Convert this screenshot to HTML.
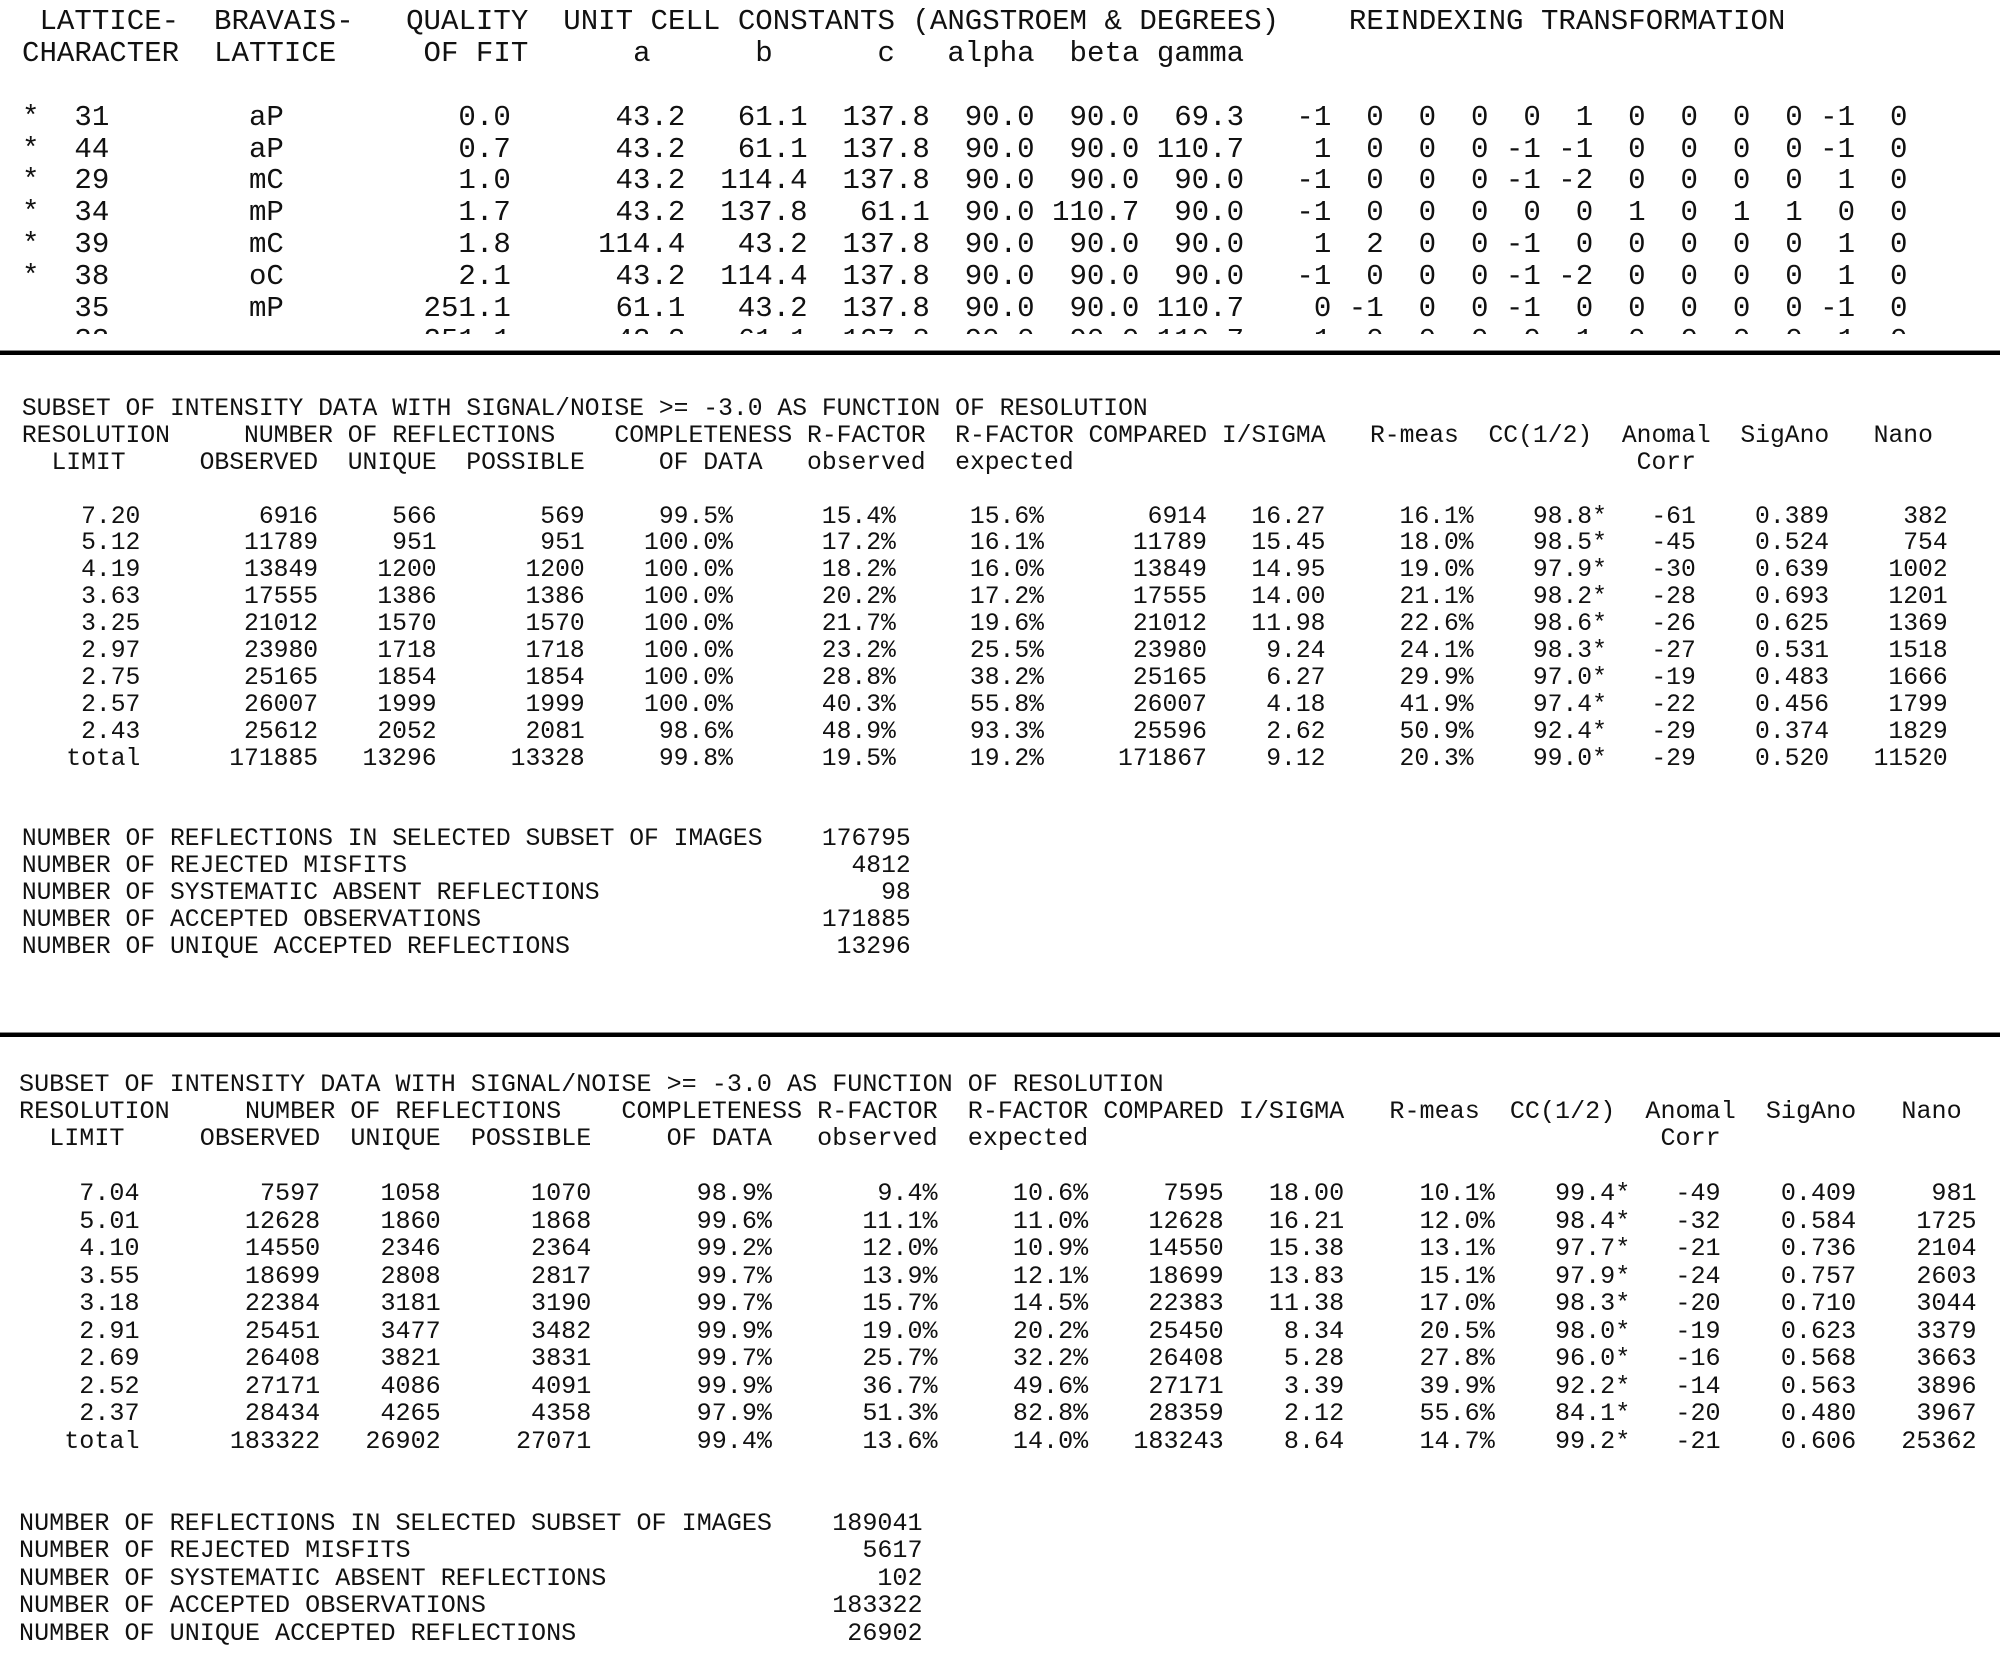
<!DOCTYPE html>
<html><head><meta charset="utf-8">
<style>
html,body{margin:0;padding:0;background:#fff;}
body{width:2000px;height:1653px;position:relative;overflow:hidden;}
.s{position:absolute;font-family:"Liberation Mono","DejaVu Sans Mono",monospace;white-space:normal;color:#111;}
.s>div{white-space:pre;display:block;}
.r span{display:inline-block;text-align:right;white-space:pre;}
.s1{left:22px;top:6px;font-size:29.1px;line-height:31.9px;height:328px;overflow:hidden;}
.s1>div{height:31.9px;}
.s1 .r span:nth-child(1){width:1ch;text-align:left}
.s1 .r span:nth-child(2){width:4ch}
.s1 .r span:nth-child(3){width:10ch}
.s1 .r span:nth-child(4){width:13ch}
.s1 .r span:nth-child(5){width:10ch}
.s1 .r span:nth-child(6){width:7ch}
.s1 .r span:nth-child(7){width:7ch}
.s1 .r span:nth-child(8){width:6ch}
.s1 .r span:nth-child(9){width:6ch}
.s1 .r span:nth-child(10){width:6ch}
.s1 .r span:nth-child(11){width:5ch}
.s1 .r span:nth-child(n+12){width:3ch}
.s2{left:7px;top:396px;font-size:24.69px;line-height:26.9px;}
.s2>div{height:26.9px;}
.s3{left:4px;top:1070.5px;font-size:25.1px;line-height:27.47px;}
.s3>div{height:27.47px;}
.t .r span:nth-child(1){width:9ch}
.t .r span:nth-child(2){width:12ch}
.t .r span:nth-child(3){width:8ch}
.t .r span:nth-child(4){width:10ch}
.s2 .r span:nth-child(5){width:10ch}
.s2 .r span:nth-child(6){width:11ch}
.s2 .r span:nth-child(7){width:10ch}
.s2 .r span:nth-child(8){width:11ch}
.s3 .r span:nth-child(5){width:12ch}
.s3 .r span:nth-child(6){width:11ch}
.s3 .r span:nth-child(7){width:10ch}
.s3 .r span:nth-child(8){width:9ch}
.t .r span:nth-child(9){width:8ch}
.t .r span:nth-child(10){width:10ch}
.t .r span:nth-child(11){width:9ch}
.t .r span:nth-child(12){width:6ch}
.t .r span:nth-child(13){width:9ch}
.t .r span:nth-child(14){width:8ch}
.t .m span:nth-child(1){width:52ch;text-align:left}
.t .m span:nth-child(2){width:9ch}
.sep{position:absolute;left:0;width:2000px;height:4px;background:#000;border-top:1px solid #888;}
</style></head><body>

<div class="s s1"><div> LATTICE-  BRAVAIS-   QUALITY  UNIT CELL CONSTANTS (ANGSTROEM &amp; DEGREES)    REINDEXING TRANSFORMATION</div><div>CHARACTER  LATTICE     OF FIT      a      b      c   alpha  beta gamma</div><div> </div><div class="r"><span>*</span><span>31</span><span>aP</span><span>0.0</span><span>43.2</span><span>61.1</span><span>137.8</span><span>90.0</span><span>90.0</span><span>69.3</span><span>-1</span><span>0</span><span>0</span><span>0</span><span>0</span><span>1</span><span>0</span><span>0</span><span>0</span><span>0</span><span>-1</span><span>0</span></div><div class="r"><span>*</span><span>44</span><span>aP</span><span>0.7</span><span>43.2</span><span>61.1</span><span>137.8</span><span>90.0</span><span>90.0</span><span>110.7</span><span>1</span><span>0</span><span>0</span><span>0</span><span>-1</span><span>-1</span><span>0</span><span>0</span><span>0</span><span>0</span><span>-1</span><span>0</span></div><div class="r"><span>*</span><span>29</span><span>mC</span><span>1.0</span><span>43.2</span><span>114.4</span><span>137.8</span><span>90.0</span><span>90.0</span><span>90.0</span><span>-1</span><span>0</span><span>0</span><span>0</span><span>-1</span><span>-2</span><span>0</span><span>0</span><span>0</span><span>0</span><span>1</span><span>0</span></div><div class="r"><span>*</span><span>34</span><span>mP</span><span>1.7</span><span>43.2</span><span>137.8</span><span>61.1</span><span>90.0</span><span>110.7</span><span>90.0</span><span>-1</span><span>0</span><span>0</span><span>0</span><span>0</span><span>0</span><span>1</span><span>0</span><span>1</span><span>1</span><span>0</span><span>0</span></div><div class="r"><span>*</span><span>39</span><span>mC</span><span>1.8</span><span>114.4</span><span>43.2</span><span>137.8</span><span>90.0</span><span>90.0</span><span>90.0</span><span>1</span><span>2</span><span>0</span><span>0</span><span>-1</span><span>0</span><span>0</span><span>0</span><span>0</span><span>0</span><span>1</span><span>0</span></div><div class="r"><span>*</span><span>38</span><span>oC</span><span>2.1</span><span>43.2</span><span>114.4</span><span>137.8</span><span>90.0</span><span>90.0</span><span>90.0</span><span>-1</span><span>0</span><span>0</span><span>0</span><span>-1</span><span>-2</span><span>0</span><span>0</span><span>0</span><span>0</span><span>1</span><span>0</span></div><div class="r"><span> </span><span>35</span><span>mP</span><span>251.1</span><span>61.1</span><span>43.2</span><span>137.8</span><span>90.0</span><span>90.0</span><span>110.7</span><span>0</span><span>-1</span><span>0</span><span>0</span><span>-1</span><span>0</span><span>0</span><span>0</span><span>0</span><span>0</span><span>-1</span><span>0</span></div><div class="r"><span> </span><span>33</span><span> </span><span>251.1</span><span>43.2</span><span>61.1</span><span>137.8</span><span>90.0</span><span>90.0</span><span>110.7</span><span>1</span><span>0</span><span>0</span><span>0</span><span>0</span><span>1</span><span>0</span><span>0</span><span>0</span><span>0</span><span>1</span><span>0</span></div></div>

<div class="sep" style="top:350px"></div>

<div class="s s2 t"><div> SUBSET OF INTENSITY DATA WITH SIGNAL/NOISE &gt;= -3.0 AS FUNCTION OF RESOLUTION</div><div> RESOLUTION     NUMBER OF REFLECTIONS    COMPLETENESS R-FACTOR  R-FACTOR COMPARED I/SIGMA   R-meas  CC(1/2)  Anomal  SigAno   Nano</div><div>   LIMIT     OBSERVED  UNIQUE  POSSIBLE     OF DATA   observed  expected                                      Corr</div><div> </div><div class="r"><span>7.20</span><span>6916</span><span>566</span><span>569</span><span>99.5%</span><span>15.4%</span><span>15.6%</span><span>6914</span><span>16.27</span><span>16.1%</span><span>98.8*</span><span>-61</span><span>0.389</span><span>382</span></div><div class="r"><span>5.12</span><span>11789</span><span>951</span><span>951</span><span>100.0%</span><span>17.2%</span><span>16.1%</span><span>11789</span><span>15.45</span><span>18.0%</span><span>98.5*</span><span>-45</span><span>0.524</span><span>754</span></div><div class="r"><span>4.19</span><span>13849</span><span>1200</span><span>1200</span><span>100.0%</span><span>18.2%</span><span>16.0%</span><span>13849</span><span>14.95</span><span>19.0%</span><span>97.9*</span><span>-30</span><span>0.639</span><span>1002</span></div><div class="r"><span>3.63</span><span>17555</span><span>1386</span><span>1386</span><span>100.0%</span><span>20.2%</span><span>17.2%</span><span>17555</span><span>14.00</span><span>21.1%</span><span>98.2*</span><span>-28</span><span>0.693</span><span>1201</span></div><div class="r"><span>3.25</span><span>21012</span><span>1570</span><span>1570</span><span>100.0%</span><span>21.7%</span><span>19.6%</span><span>21012</span><span>11.98</span><span>22.6%</span><span>98.6*</span><span>-26</span><span>0.625</span><span>1369</span></div><div class="r"><span>2.97</span><span>23980</span><span>1718</span><span>1718</span><span>100.0%</span><span>23.2%</span><span>25.5%</span><span>23980</span><span>9.24</span><span>24.1%</span><span>98.3*</span><span>-27</span><span>0.531</span><span>1518</span></div><div class="r"><span>2.75</span><span>25165</span><span>1854</span><span>1854</span><span>100.0%</span><span>28.8%</span><span>38.2%</span><span>25165</span><span>6.27</span><span>29.9%</span><span>97.0*</span><span>-19</span><span>0.483</span><span>1666</span></div><div class="r"><span>2.57</span><span>26007</span><span>1999</span><span>1999</span><span>100.0%</span><span>40.3%</span><span>55.8%</span><span>26007</span><span>4.18</span><span>41.9%</span><span>97.4*</span><span>-22</span><span>0.456</span><span>1799</span></div><div class="r"><span>2.43</span><span>25612</span><span>2052</span><span>2081</span><span>98.6%</span><span>48.9%</span><span>93.3%</span><span>25596</span><span>2.62</span><span>50.9%</span><span>92.4*</span><span>-29</span><span>0.374</span><span>1829</span></div><div class="r"><span>total</span><span>171885</span><span>13296</span><span>13328</span><span>99.8%</span><span>19.5%</span><span>19.2%</span><span>171867</span><span>9.12</span><span>20.3%</span><span>99.0*</span><span>-29</span><span>0.520</span><span>11520</span></div><div> </div><div> </div><div class="r m"><span> NUMBER OF REFLECTIONS IN SELECTED SUBSET OF IMAGES</span><span>176795</span></div><div class="r m"><span> NUMBER OF REJECTED MISFITS</span><span>4812</span></div><div class="r m"><span> NUMBER OF SYSTEMATIC ABSENT REFLECTIONS</span><span>98</span></div><div class="r m"><span> NUMBER OF ACCEPTED OBSERVATIONS</span><span>171885</span></div><div class="r m"><span> NUMBER OF UNIQUE ACCEPTED REFLECTIONS</span><span>13296</span></div></div>

<div class="sep" style="top:1032px"></div>

<div class="s s3 t"><div> SUBSET OF INTENSITY DATA WITH SIGNAL/NOISE &gt;= -3.0 AS FUNCTION OF RESOLUTION</div><div> RESOLUTION     NUMBER OF REFLECTIONS    COMPLETENESS R-FACTOR  R-FACTOR COMPARED I/SIGMA   R-meas  CC(1/2)  Anomal  SigAno   Nano</div><div>   LIMIT     OBSERVED  UNIQUE  POSSIBLE     OF DATA   observed  expected                                      Corr</div><div> </div><div class="r"><span>7.04</span><span>7597</span><span>1058</span><span>1070</span><span>98.9%</span><span>9.4%</span><span>10.6%</span><span>7595</span><span>18.00</span><span>10.1%</span><span>99.4*</span><span>-49</span><span>0.409</span><span>981</span></div><div class="r"><span>5.01</span><span>12628</span><span>1860</span><span>1868</span><span>99.6%</span><span>11.1%</span><span>11.0%</span><span>12628</span><span>16.21</span><span>12.0%</span><span>98.4*</span><span>-32</span><span>0.584</span><span>1725</span></div><div class="r"><span>4.10</span><span>14550</span><span>2346</span><span>2364</span><span>99.2%</span><span>12.0%</span><span>10.9%</span><span>14550</span><span>15.38</span><span>13.1%</span><span>97.7*</span><span>-21</span><span>0.736</span><span>2104</span></div><div class="r"><span>3.55</span><span>18699</span><span>2808</span><span>2817</span><span>99.7%</span><span>13.9%</span><span>12.1%</span><span>18699</span><span>13.83</span><span>15.1%</span><span>97.9*</span><span>-24</span><span>0.757</span><span>2603</span></div><div class="r"><span>3.18</span><span>22384</span><span>3181</span><span>3190</span><span>99.7%</span><span>15.7%</span><span>14.5%</span><span>22383</span><span>11.38</span><span>17.0%</span><span>98.3*</span><span>-20</span><span>0.710</span><span>3044</span></div><div class="r"><span>2.91</span><span>25451</span><span>3477</span><span>3482</span><span>99.9%</span><span>19.0%</span><span>20.2%</span><span>25450</span><span>8.34</span><span>20.5%</span><span>98.0*</span><span>-19</span><span>0.623</span><span>3379</span></div><div class="r"><span>2.69</span><span>26408</span><span>3821</span><span>3831</span><span>99.7%</span><span>25.7%</span><span>32.2%</span><span>26408</span><span>5.28</span><span>27.8%</span><span>96.0*</span><span>-16</span><span>0.568</span><span>3663</span></div><div class="r"><span>2.52</span><span>27171</span><span>4086</span><span>4091</span><span>99.9%</span><span>36.7%</span><span>49.6%</span><span>27171</span><span>3.39</span><span>39.9%</span><span>92.2*</span><span>-14</span><span>0.563</span><span>3896</span></div><div class="r"><span>2.37</span><span>28434</span><span>4265</span><span>4358</span><span>97.9%</span><span>51.3%</span><span>82.8%</span><span>28359</span><span>2.12</span><span>55.6%</span><span>84.1*</span><span>-20</span><span>0.480</span><span>3967</span></div><div class="r"><span>total</span><span>183322</span><span>26902</span><span>27071</span><span>99.4%</span><span>13.6%</span><span>14.0%</span><span>183243</span><span>8.64</span><span>14.7%</span><span>99.2*</span><span>-21</span><span>0.606</span><span>25362</span></div><div> </div><div> </div><div class="r m"><span> NUMBER OF REFLECTIONS IN SELECTED SUBSET OF IMAGES</span><span>189041</span></div><div class="r m"><span> NUMBER OF REJECTED MISFITS</span><span>5617</span></div><div class="r m"><span> NUMBER OF SYSTEMATIC ABSENT REFLECTIONS</span><span>102</span></div><div class="r m"><span> NUMBER OF ACCEPTED OBSERVATIONS</span><span>183322</span></div><div class="r m"><span> NUMBER OF UNIQUE ACCEPTED REFLECTIONS</span><span>26902</span></div></div>

</body></html>
